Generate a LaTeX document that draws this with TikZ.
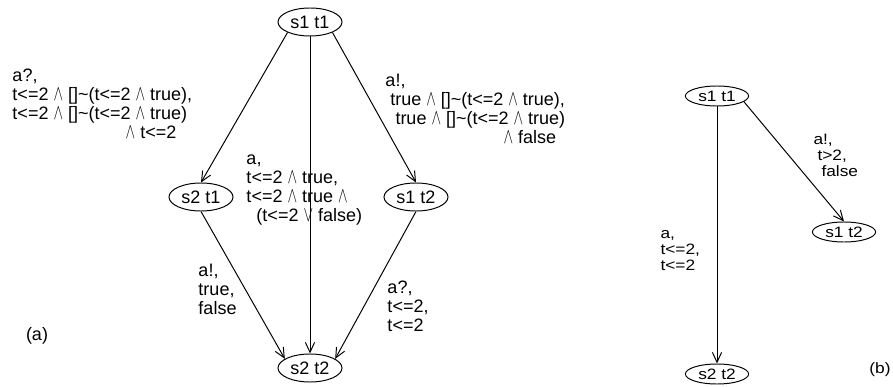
\documentclass[tikz,border=0pt]{standalone}
\usepackage{fontspec}
\setmainfont{Liberation Sans}
\newfontfamily\widefont[FakeStretch=1.15]{Liberation Sans}
\usetikzlibrary{shapes.geometric,arrows.meta}
\newcommand{\lAnd}{\scalebox{0.85}[1.3]{$\wedge$}}
\newcommand{\lOr}{\scalebox{0.85}[1.3]{$\vee$}}
\begin{document}
\begin{tikzpicture}[x=0.025cm,y=-0.025cm,
	every node/.style={inner sep=0pt},
	every path/.style={line width=0.7pt},
	fa/.style={font=\fontsize{12.8}{13.5}\selectfont},
	fb/.style={font=\widefont\fontsize{10.7}{11.4}\selectfont},
	st/.style={ellipse, draw=black, fa, minimum width=1.6cm, minimum height=0.7cm},
	stb/.style={ellipse, draw=black, fb, minimum width=1.58cm, minimum height=0.5cm},
	lbl/.style={anchor=north west, align=left, fa},
	lblb/.style={anchor=north west, align=left, fb},
	arr/.style={-{Straight Barb[length=2.5mm,width=2.3mm]}}]
	\useasboundingbox (0,0) rectangle (893,387);
	% (a)
	\node[st] (a1) at (310,22){s1 t1};
	\node[st] (a2) at (201,197){s2 t1};
	\node[st] (a3) at (416,197){s1 t2};
	\node[st] (a4) at (310,368){s2 t2};
	
	\path[arr] (a1.205) edge (a2.north);
	\path[arr] (a1.south) edge (a4.north);
	\path[arr] (a1.-25) edge (a3.north);
	\path[arr] (a2.south) edge (a4.160);
	\path[arr] (a3.south) edge (a4.20);
	
	\node[lbl] (la12) at (12,68){\strut a?,\\t<=2 \lAnd{} []\textasciitilde(t<=2 \lAnd{} true),\\t<=2 \lAnd{} []\textasciitilde(t<=2 \lAnd{} true)\\\hspace*{2.83cm}\lAnd{} t<=2};
	\node[lbl] (la13) at (385,73){\strut a!,\\\hspace*{0.12cm}true \lAnd{} []\textasciitilde(t<=2 \lAnd{} true),\\\hspace*{0.25cm}true \lAnd{} []\textasciitilde(t<=2 \lAnd{} true)\\\hspace*{2.95cm}\lAnd{} false};
	\node[lbl] (la14) at (246,151){\strut a,\\t<=2 \lAnd{} true,\\t<=2 \lAnd{} true \lAnd\\\hspace*{0.25cm}(t<=2 \lOr{} false)};
	\node[lbl] (la24) at (198,263){\strut a!,\\true,\\false};
	\node[lbl] (la34) at (387,280){\strut a?,\\t<=2,\\t<=2};
	\node[fa] (capa) at (37,336){(a)};
	
	% (b)
	\node[stb] (b1) at (717,96){s1 t1};
	\node[stb] (b2) at (844,232){s1 t2};
	\node[stb] (b3) at (717,374){s2 t2};
	
	\path[arr] (b1.south) edge (b3.north);
	\path[arr] (b1.-12) edge (b2.north);
	
	\node[lblb] (lb12) at (813,133){\strut a!,\\\hspace*{0.1cm}t>2,\\\hspace*{0.2cm}false};
	\node[lblb] (lb13) at (660,227){\strut a,\\t<=2,\\t<=2};
	\node[fb] (capb) at (880,370){(b)};
\end{tikzpicture}
\end{document}
